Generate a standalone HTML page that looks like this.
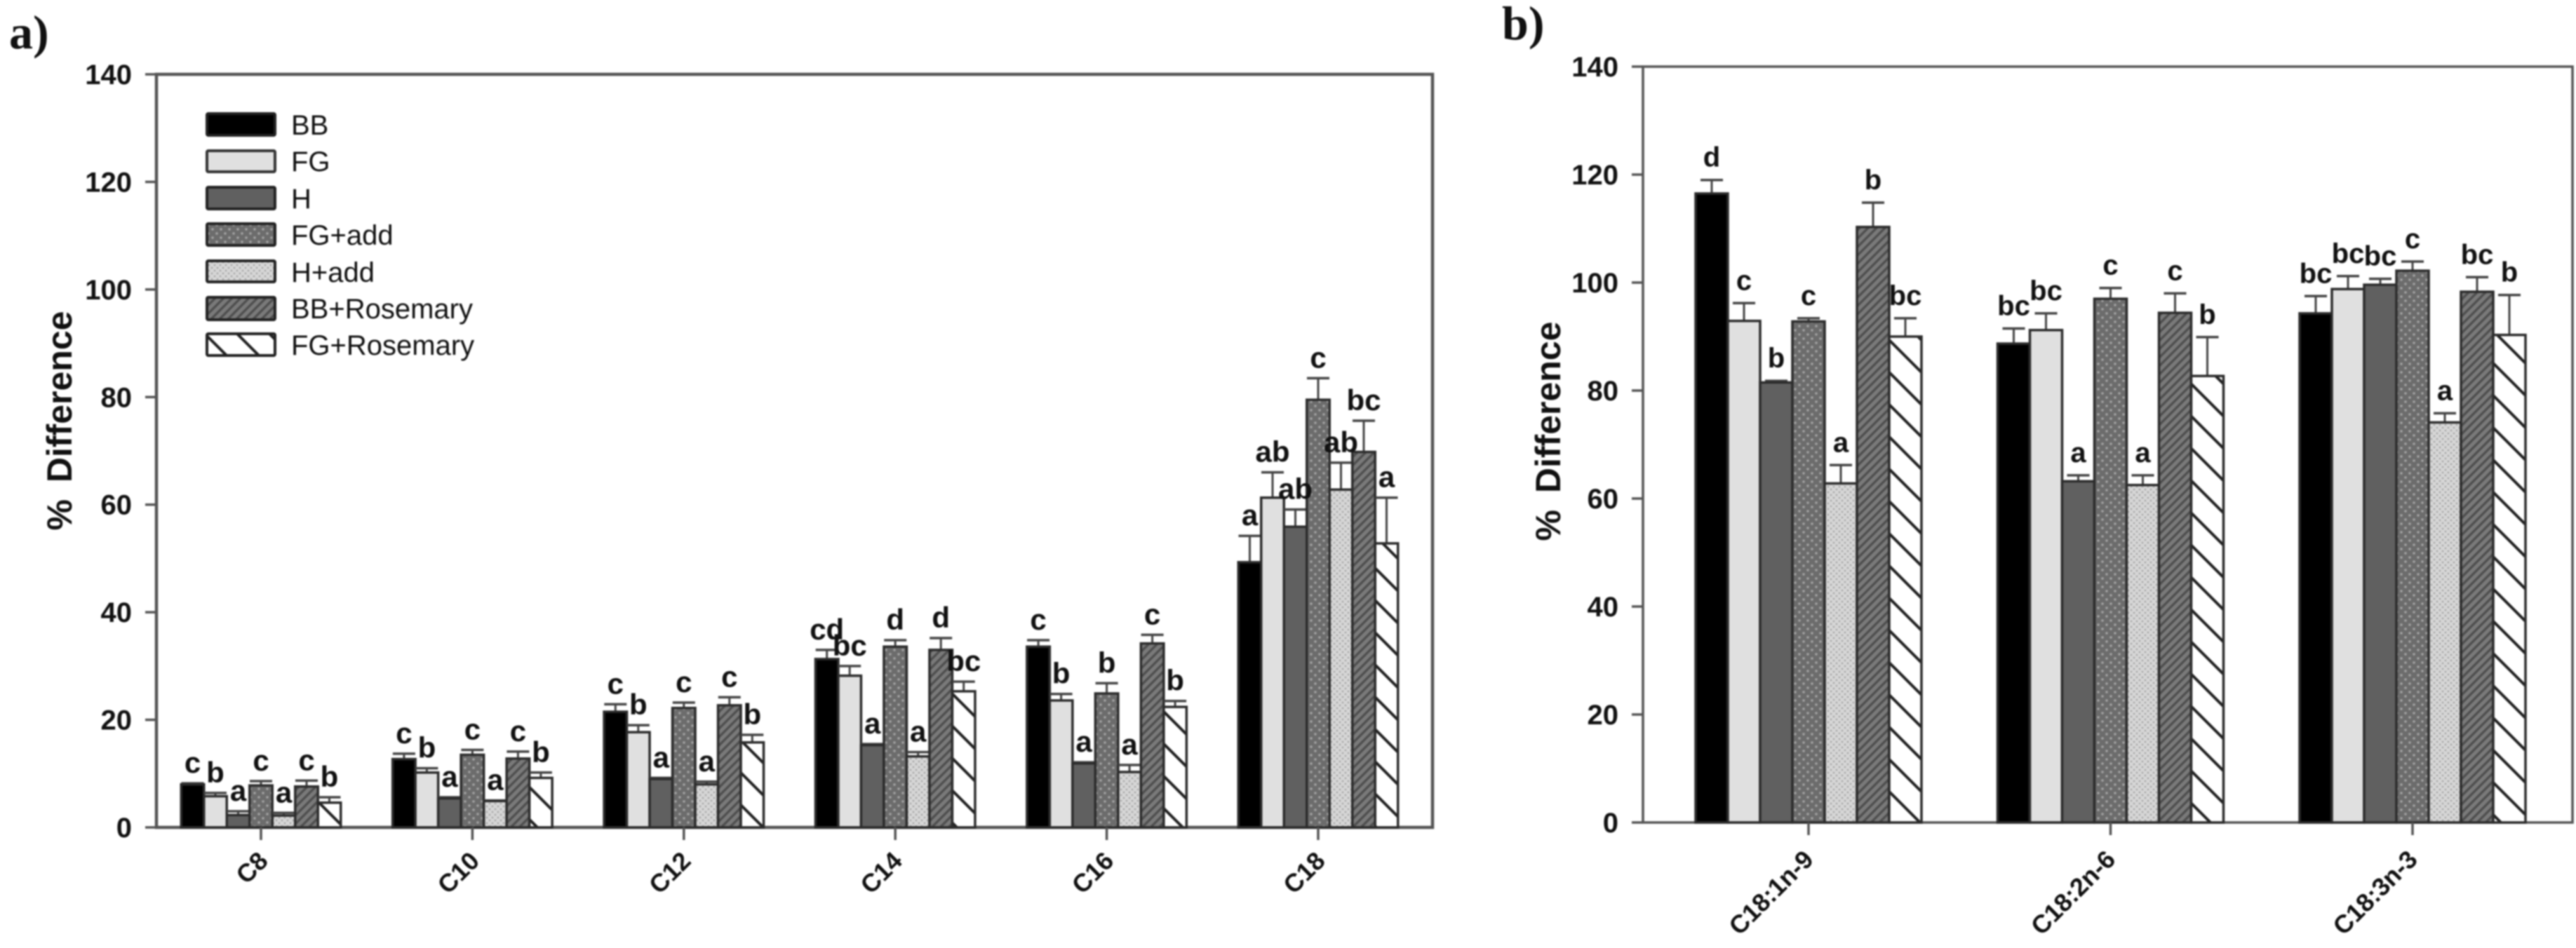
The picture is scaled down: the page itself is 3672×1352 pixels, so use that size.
<!DOCTYPE html>
<html lang="en">
<head>
<meta charset="utf-8">
<title>% Difference by fatty acid</title>
<style>
html,body{margin:0;padding:0;background:#fff;width:3672px;height:1352px;overflow:hidden}
svg{display:block;filter:blur(1.1px)}
text{font-family:"Liberation Sans",Arial,sans-serif;fill:#111}
.tick{font-size:40px;font-weight:bold;text-anchor:end}
.cat{font-size:36px;font-weight:bold;text-anchor:end}
.let-a{font-size:42px;font-weight:bold;text-anchor:middle}
.let-b{font-size:40px;font-weight:bold;text-anchor:middle}
.ytitle{font-size:50px;font-weight:bold;text-anchor:middle;word-spacing:10px}
.panel{font-family:"Liberation Serif",serif;font-size:68px;font-weight:bold}
.leg{font-size:40px;fill:#111}
</style>
</head>
<body>
<svg id="figure" xmlns="http://www.w3.org/2000/svg" width="3672" height="1352" viewBox="0 0 3672 1352">
<defs>
<pattern id="p-fgadd" patternUnits="userSpaceOnUse" width="12" height="12"><rect width="12" height="12" fill="#6c6c6c"/><circle cx="3" cy="3" r="1.7" fill="#a6a6a6"/><circle cx="9" cy="9" r="1.7" fill="#a6a6a6"/></pattern>
<pattern id="p-hadd" patternUnits="userSpaceOnUse" width="8" height="8"><rect width="8" height="8" fill="#d6d6d6"/><circle cx="2" cy="2" r="1.4" fill="#a8a8a8"/><circle cx="6" cy="6" r="1.4" fill="#a8a8a8"/></pattern>
<pattern id="p-bbros" patternUnits="userSpaceOnUse" width="12" height="12"><rect width="12" height="12" fill="#7a7a7a"/><path d="M-3 3L3 -3M0 12L12 0M9 15L15 9" stroke="#4e4e4e" stroke-width="3.4"/></pattern>
<pattern id="p-fgros" patternUnits="userSpaceOnUse" width="46" height="46"><rect width="46" height="46" fill="#fff"/><path d="M-6 -6L52 52M-6 40L6 52M40 -6L52 6" stroke="#222" stroke-width="4"/></pattern>
</defs>

<text class="panel" x="13" y="69">a)</text>
<text class="panel" x="2141" y="56">b)</text>
<text class="ytitle" transform="translate(102,600) rotate(-90)">% Difference</text>
<text class="ytitle" transform="translate(2224,615) rotate(-90)">% Difference</text>

<g id="plot-a"></g>
<g id="plot-b"></g>

<g stroke-linejoin="round">
 <g><rect x="295" y="162" width="97" height="31" rx="2" fill="#000" stroke="#222" stroke-width="4"/><text class="leg" x="415" y="192">BB</text></g>
 <g><rect x="295" y="215" width="97" height="30" rx="2" fill="#e0e0e0" stroke="#333" stroke-width="4"/><text class="leg" x="415" y="244">FG</text></g>
 <g><rect x="295" y="267" width="97" height="31" rx="2" fill="#606060" stroke="#222" stroke-width="4"/><text class="leg" x="415" y="297">H</text></g>
 <g><rect x="295" y="319" width="97" height="31" rx="2" fill="url(#p-fgadd)" stroke="#222" stroke-width="4"/><text class="leg" x="415" y="349">FG+add</text></g>
 <g><rect x="295" y="372" width="97" height="30" rx="2" fill="url(#p-hadd)" stroke="#222" stroke-width="4"/><text class="leg" x="415" y="402">H+add</text></g>
 <g><rect x="295" y="424" width="97" height="32" rx="2" fill="url(#p-bbros)" stroke="#222" stroke-width="4"/><text class="leg" x="415" y="454">BB+Rosemary</text></g>
 <g><rect x="295" y="476" width="97" height="31" rx="2" fill="url(#p-fgros)" stroke="#222" stroke-width="4"/><text class="leg" x="415" y="506">FG+Rosemary</text></g>
</g>
</svg>

<script>
const yTickLabels = [0, 20, 40, 60, 80, 100, 120, 140];
const seriesNames = ['BB', 'FG', 'H', 'FG+add', 'H+add', 'BB+Rosemary', 'FG+Rosemary'];
const seriesFills = ['#000', '#e0e0e0', '#606060', 'url(#p-fgadd)', 'url(#p-hadd)', 'url(#p-bbros)', 'url(#p-fgros)'];

const categoriesA = ['C8', 'C10', 'C12', 'C14', 'C16', 'C18'];
const valuesA = [
  [8.0, 5.8, 2.3, 7.8, 2.2, 7.6, 4.6],
  [12.7, 10.2, 5.4, 13.5, 4.9, 12.8, 9.2],
  [21.5, 17.7, 9.0, 22.2, 8.0, 22.7, 15.8],
  [31.3, 28.2, 15.3, 33.6, 13.2, 33.0, 25.3],
  [33.6, 23.6, 11.9, 24.9, 10.3, 34.2, 22.4],
  [49.3, 61.3, 55.9, 79.5, 62.8, 69.8, 52.8]
];
const errorTopsA = [
  [8.2, 6.4, 3.0, 8.6, 2.7, 8.7, 5.6],
  [13.7, 11.0, 5.6, 14.4, 5.0, 14.1, 10.2],
  [22.9, 19.0, 9.2, 23.2, 8.5, 24.2, 17.2],
  [33.0, 30.0, 15.5, 34.8, 14.0, 35.2, 27.1],
  [34.8, 24.8, 12.1, 26.8, 11.6, 35.8, 23.5],
  [54.2, 66.0, 59.1, 83.5, 67.8, 75.6, 61.3]
];
const lettersA = [
  ['c', 'b', 'a', 'c', 'a', 'c', 'b'],
  ['c', 'b', 'a', 'c', 'a', 'c', 'b'],
  ['c', 'b', 'a', 'c', 'a', 'c', 'b'],
  ['cd', 'bc', 'a', 'd', 'a', 'd', 'bc'],
  ['c', 'b', 'a', 'b', 'a', 'c', 'b'],
  ['a', 'ab', 'ab', 'c', 'ab', 'bc', 'a']
];

const categoriesB = ['C18:1n-9', 'C18:2n-6', 'C18:3n-3'];
const valuesB = [
  [116.5, 92.9, 81.5, 92.8, 62.8, 110.3, 90.0],
  [88.7, 91.2, 63.2, 97.0, 62.5, 94.4, 82.7],
  [94.3, 98.8, 99.6, 102.2, 74.1, 98.3, 90.3]
];
const errorTopsB = [
  [119.0, 96.2, 81.8, 93.4, 66.2, 114.8, 93.4],
  [91.5, 94.3, 64.3, 99.0, 64.3, 98.0, 89.9],
  [97.5, 101.2, 100.7, 103.9, 75.8, 101.0, 97.7]
];
const lettersB = [
  ['d', 'c', 'b', 'c', 'a', 'b', 'bc'],
  ['bc', 'bc', 'a', 'c', 'a', 'c', 'b'],
  ['bc', 'bc', 'bc', 'c', 'a', 'bc', 'b']
];

const SVGNS = 'http://www.w3.org/2000/svg';
function make(tag, parent, attrs) {
  const el = document.createElementNS(SVGNS, tag);
  Object.keys(attrs).forEach(function (k) { el.setAttribute(k, attrs[k]); });
  parent.appendChild(el);
  return el;
}

function drawPanel(cfg) {
  const root = document.getElementById(cfg.id);
  const yScale = function (v) { return cfg.y0 + (cfg.y140 - cfg.y0) * v / 140; };
  const xCenter = function (i) { return cfg.c0 + cfg.step * i; };

  const frame = make('rect', root, { x: cfg.left, y: yScale(140), width: cfg.right - cfg.left, height: cfg.y0 - yScale(140), fill: 'none', stroke: '#555', 'stroke-width': cfg.lw });
  
  

  yTickLabels.forEach(function (t) {
    const y = yScale(t);
    const tick = make('line', root, { x1: cfg.left - 16, x2: cfg.left, y1: y, y2: y, stroke: '#555', 'stroke-width': 3.5 });
    
    
    const label = make('text', root, { x: cfg.left - 35, y: y + 14, class: 'tick' });
    
    
    label.textContent = t;
  });

  cfg.cats.forEach(function (cat, i) {
    const cx = xCenter(i);
    cfg.vals[i].forEach(function (v, j) {
      const x = cx + (j - 3.5) * cfg.bw;
      const yv = yScale(v);
      const yt = yScale(cfg.errs[i][j]);
      const mid = x + cfg.bw / 2;

      const stem = make('line', root, { x1: mid, x2: mid, y1: yv, y2: yt, stroke: '#444', 'stroke-width': 3 });
      
      
      const cap = make('line', root, { x1: mid - 16, x2: mid + 16, y1: yt, y2: yt, stroke: '#444', 'stroke-width': 3.5 });
      
      

      const bar = make('rect', root, { x: x, y: yv, width: cfg.bw, height: cfg.y0 - yv, fill: seriesFills[j], stroke: '#2c2c2c', 'stroke-width': 3.5 });
      
      
      const tip = make('title', bar, {});
      tip.textContent = seriesNames[j] + ' ' + cat + ': ' + v;
    });

    const xt = make('line', root, { x1: cx, x2: cx, y1: cfg.y0, y2: cfg.y0 + 18, stroke: '#555', 'stroke-width': 3.5 });
    
    

    const xl = make('text', root, { class: 'cat', transform: 'translate(' + (cx + cfg.labelDx) + ',' + (cfg.y0 + cfg.labelDy) + ') rotate(-45)' });
    
    
    xl.textContent = cat;
  });

  cfg.cats.forEach(function (cat, i) {
    const cx = xCenter(i);
    cfg.vals[i].forEach(function (v, j) {
      const mid = cx + (j - 3.5) * cfg.bw + cfg.bw / 2;
      const t = make('text', root, { x: mid, y: yScale(cfg.errs[i][j]) - cfg.gap, class: cfg.letterClass });
      
      
      t.textContent = cfg.letters[i][j];
    });
  });
}

drawPanel({ id: 'plot-a', left: 223, right: 2042, y0: 1180, y140: 106, c0: 372, step: 301.4, bw: 32.5, lw: 4.5, gap: 15, labelDx: 12, labelDy: 50, letterClass: 'let-a', cats: categoriesA, vals: valuesA, errs: errorTopsA, letters: lettersA });
drawPanel({ id: 'plot-b', left: 2342, right: 3667, y0: 1173, y140: 95, c0: 2578, step: 430.5, bw: 46, lw: 3.5, gap: 19, labelDx: 9, labelDy: 55, letterClass: 'let-b', cats: categoriesB, vals: valuesB, errs: errorTopsB, letters: lettersB });
</script>
</body>
</html>
